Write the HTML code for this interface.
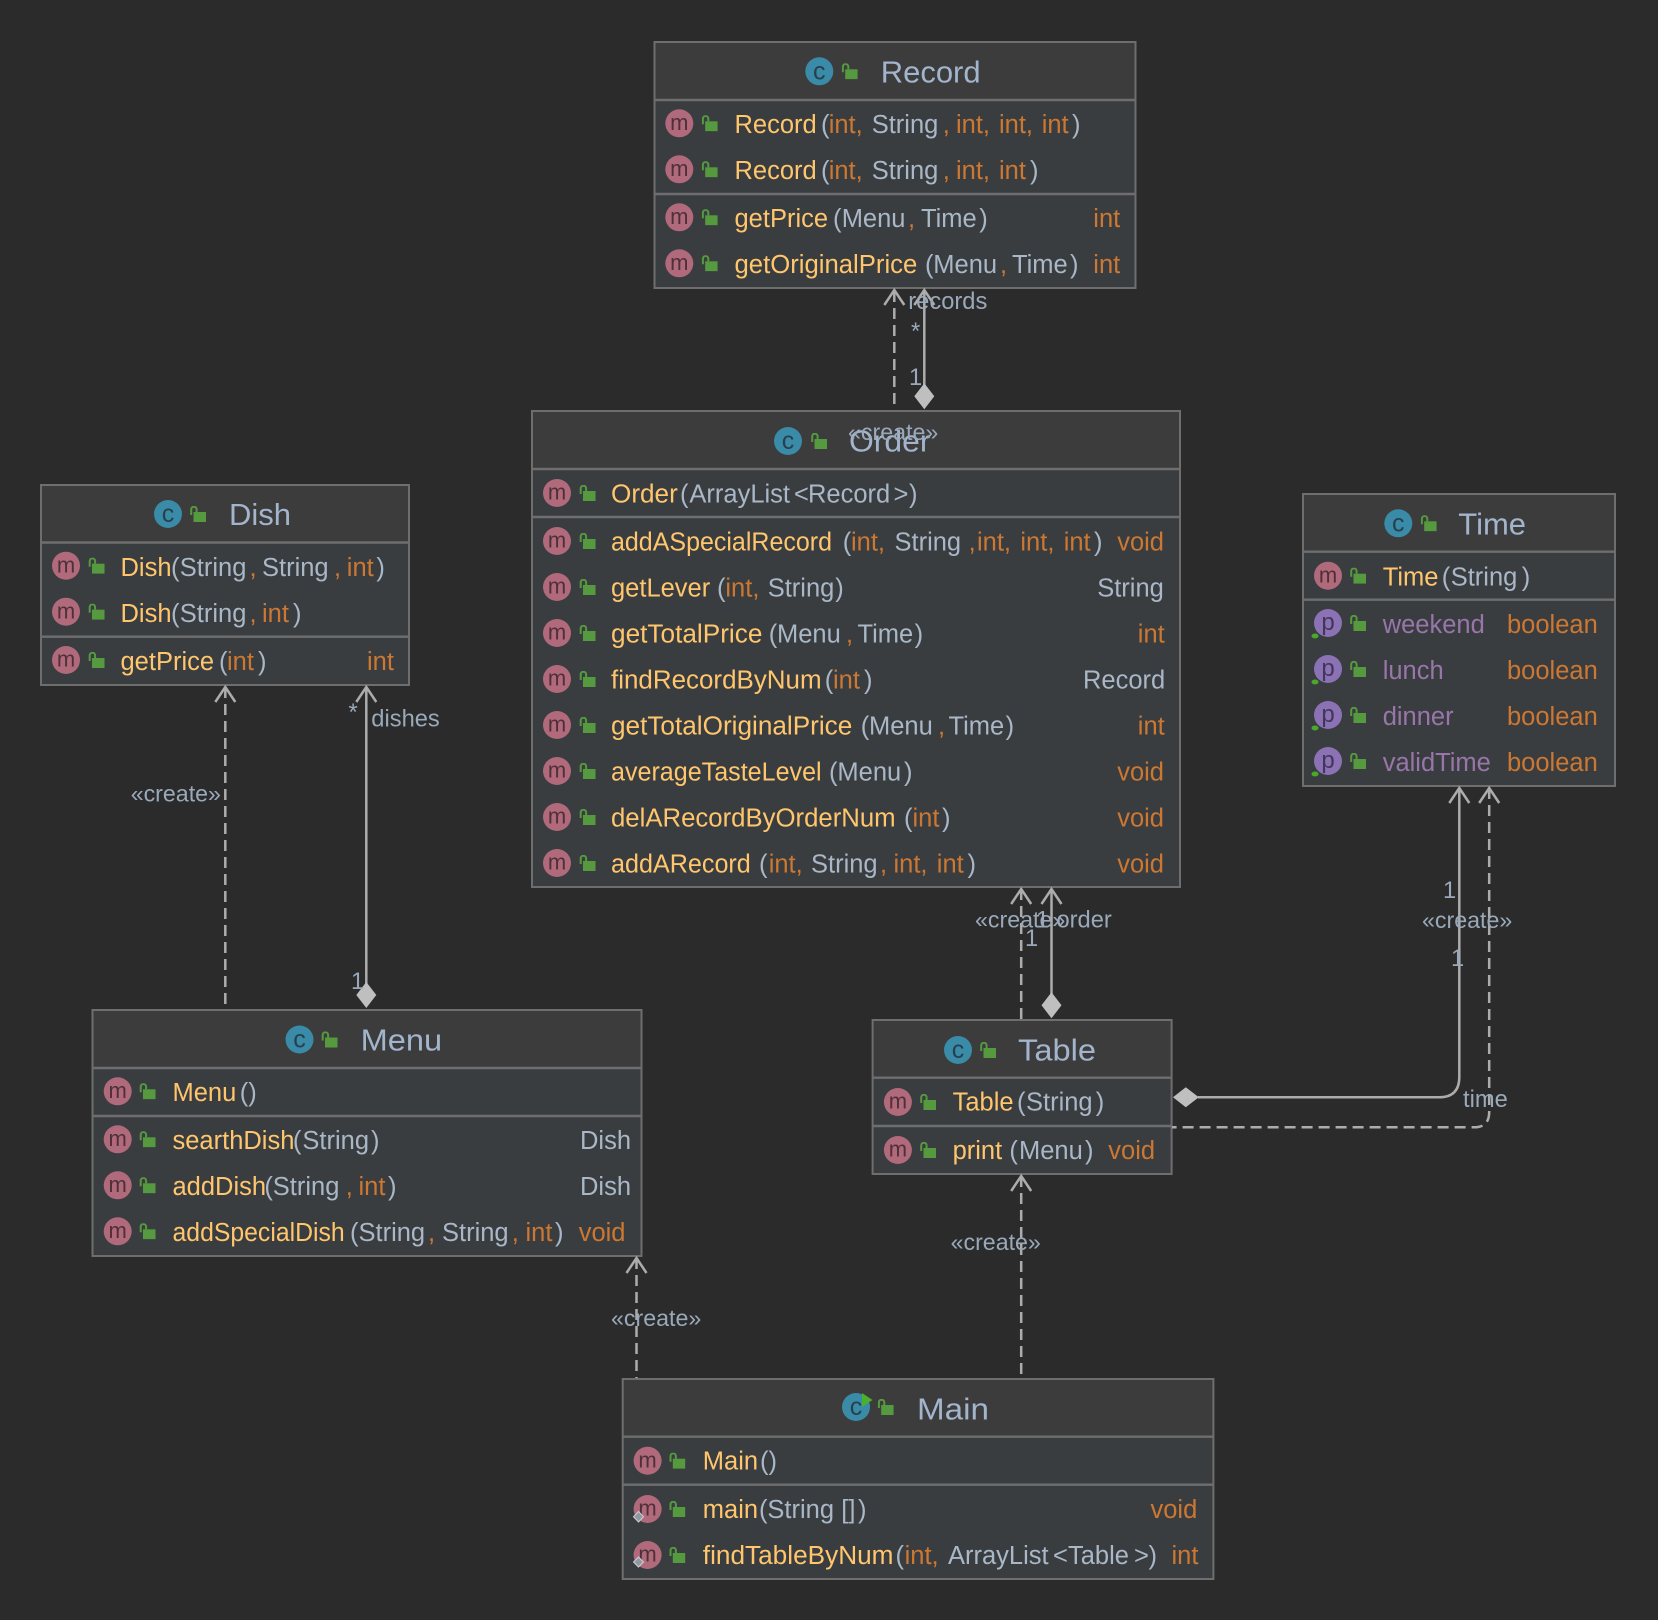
<!DOCTYPE html>
<html><head><meta charset="utf-8"><style>
html,body{margin:0;padding:0;background:#2b2b2b}
svg{display:block}
text{font-family:"Liberation Sans",sans-serif;font-size:25.5px}
.y{fill:#ffc66d}.b{fill:#a9b7c6}.o{fill:#cc7832}.p{fill:#9876aa}
.t{font-size:31px;fill:#a3b5cc}
.l{font-size:23.7px;fill:#9aa9ba}
.lc{font-size:23.2px;fill:#9aa9ba}
.hd{fill:#3c3c3c}.bd{fill:#3a3d40}
.bx{fill:none;stroke:#6e6e6e;stroke-width:2}
.sp{stroke:#6e6e6e;stroke-width:2.4}
.m{fill:#b06a7b}.c{fill:#3a8ba8}.pc{fill:#8a72b5}
.mt{font-size:22px;fill:#4f3039;text-anchor:middle}
.ct{font-size:25px;fill:#27404e;text-anchor:middle}
.pt{font-size:24px;fill:#43365a;text-anchor:middle}
.ln{fill:none;stroke:#acacac;stroke-width:2.5}
.ds{fill:none;stroke:#acacac;stroke-width:2.5;stroke-dasharray:11 6}
.dm{fill:#bfbfbf}
.gd{fill:#4aa82a}
.sd{fill:#8e9aa3;stroke:#d0d0d0;stroke-width:1}
</style></head><body>
<svg xmlns="http://www.w3.org/2000/svg" width="1658" height="1620" viewBox="0 0 1658 1620">
<defs>
<symbol id="L" viewBox="0 0 16 16" width="16" height="16">
<rect x="3.5" y="6" width="12.5" height="10" fill="#559a3e"/>
<path d="M1.2 9V3.4A2.7 2.7 0 0 1 6.6 3.4V6" fill="none" stroke="#559a3e" stroke-width="2"/>
</symbol>
</defs>
<rect width="1658" height="1620" fill="#2b2b2b"/>

<!-- Record -->
<rect class="hd" x="654.5" y="42" width="481" height="58"/><rect class="bd" x="654.5" y="100" width="481" height="188"/>
<rect class="bx" x="654.5" y="42" width="481" height="246"/>
<line class="sp" x1="655" y1="100" x2="1135" y2="100"/><line class="sp" x1="655" y1="194" x2="1135" y2="194"/>
<circle class="c" cx="819.3" cy="71.3" r="14"/><text class="ct" x="819.3" y="79.5">c</text><use href="#L" x="841.7" y="63.3"/>
<text class="t" x="880.7" y="82.7">Record</text>
<circle class="m" cx="679.3" cy="123.3" r="14"/><text class="mt" x="679.3" y="130">m</text><use href="#L" x="701.7" y="115.3"/>
<circle class="m" cx="679.3" cy="169.3" r="14"/><text class="mt" x="679.3" y="176">m</text><use href="#L" x="701.7" y="161.3"/>
<circle class="m" cx="679.3" cy="217.3" r="14"/><text class="mt" x="679.3" y="224">m</text><use href="#L" x="701.7" y="209.3"/>
<circle class="m" cx="679.3" cy="263.3" r="14"/><text class="mt" x="679.3" y="270">m</text><use href="#L" x="701.7" y="255.3"/>
<text y="133"><tspan class="y" x="734.5">Record</tspan><tspan class="b" x="821">(</tspan><tspan class="o" x="828.7">int,</tspan><tspan class="b" x="871.7">String</tspan><tspan class="o" x="942.7">,</tspan><tspan class="o" x="956">int,</tspan><tspan class="o" x="999">int,</tspan><tspan class="o" x="1041.7">int</tspan><tspan class="b" x="1072">)</tspan></text>
<text y="179"><tspan class="y" x="734.5">Record</tspan><tspan class="b" x="821">(</tspan><tspan class="o" x="828.7">int,</tspan><tspan class="b" x="871.7">String</tspan><tspan class="o" x="942.7">,</tspan><tspan class="o" x="956">int,</tspan><tspan class="o" x="999">int</tspan><tspan class="b" x="1030">)</tspan></text>
<text y="227"><tspan class="y" x="734.5">getPrice</tspan><tspan class="b" x="833">(</tspan><tspan class="b" x="841.7">Menu</tspan><tspan class="o" x="908">,</tspan><tspan class="b" x="921">Time</tspan><tspan class="b" x="979.3">)</tspan><tspan class="o" x="1093.3">int</tspan></text>
<text class="y" x="734.5" y="273" textLength="182.8" lengthAdjust="spacingAndGlyphs">getOriginalPrice</text>
<text y="273"><tspan class="b" x="925">(</tspan><tspan class="b" x="933.3">Menu</tspan><tspan class="o" x="1000">,</tspan><tspan class="b" x="1012">Time</tspan><tspan class="b" x="1070">)</tspan><tspan class="o" x="1093.3">int</tspan></text>

<!-- Order -->
<rect class="hd" x="532" y="411" width="648" height="58"/><rect class="bd" x="532" y="469" width="648" height="418"/>
<rect class="bx" x="532" y="411" width="648" height="476"/>
<line class="sp" x1="533" y1="469" x2="1179" y2="469"/><line class="sp" x1="533" y1="517" x2="1179" y2="517"/>
<circle class="c" cx="788" cy="441" r="14"/><text class="ct" x="788" y="449.2">c</text><use href="#L" x="811" y="433"/>
<text class="t" x="849" y="451.7" textLength="81.5" lengthAdjust="spacingAndGlyphs">Order</text>
<circle class="m" cx="557" cy="493" r="14"/><text class="mt" x="557" y="499.7">m</text><use href="#L" x="579.5" y="485"/>
<circle class="m" cx="557" cy="541" r="14"/><text class="mt" x="557" y="547.7">m</text><use href="#L" x="579.5" y="533"/>
<circle class="m" cx="557" cy="587" r="14"/><text class="mt" x="557" y="593.7">m</text><use href="#L" x="579.5" y="579"/>
<circle class="m" cx="557" cy="633" r="14"/><text class="mt" x="557" y="639.7">m</text><use href="#L" x="579.5" y="625"/>
<circle class="m" cx="557" cy="679" r="14"/><text class="mt" x="557" y="685.7">m</text><use href="#L" x="579.5" y="671"/>
<circle class="m" cx="557" cy="725" r="14"/><text class="mt" x="557" y="731.7">m</text><use href="#L" x="579.5" y="717"/>
<circle class="m" cx="557" cy="771" r="14"/><text class="mt" x="557" y="777.7">m</text><use href="#L" x="579.5" y="763"/>
<circle class="m" cx="557" cy="817" r="14"/><text class="mt" x="557" y="823.7">m</text><use href="#L" x="579.5" y="809"/>
<circle class="m" cx="557" cy="863" r="14"/><text class="mt" x="557" y="869.7">m</text><use href="#L" x="579.5" y="855"/>
<text class="y" x="611" y="502.5" textLength="66.8" lengthAdjust="spacingAndGlyphs">Order</text>
<text y="502.5"><tspan class="b" x="680">(</tspan><tspan class="b" x="689.4" >ArrayList</tspan><tspan class="b" x="794">&lt;</tspan><tspan class="b" x="808">Record</tspan><tspan class="b" x="893.5">&gt;</tspan><tspan class="b" x="909">)</tspan></text>
<text class="y" x="611" y="550.5" textLength="221" lengthAdjust="spacingAndGlyphs">addASpecialRecord</text>
<text y="550.5"><tspan class="b" x="842.7">(</tspan><tspan class="o" x="851">int,</tspan><tspan class="b" x="894.5">String</tspan><tspan class="o" x="968.6">,</tspan><tspan class="o" x="977">int,</tspan><tspan class="o" x="1020.4">int,</tspan><tspan class="o" x="1063.7">int</tspan><tspan class="b" x="1094">)</tspan><tspan class="o" x="1117.2">void</tspan></text>
<text y="596.5"><tspan class="y" x="611">getLever</tspan><tspan class="b" x="717">(</tspan><tspan class="o" x="725.4">int,</tspan><tspan class="b" x="767.7">String</tspan><tspan class="b" x="835.3">)</tspan><tspan class="b" x="1097.2">String</tspan></text>
<text class="y" x="611" y="642.5" textLength="151.4" lengthAdjust="spacingAndGlyphs">getTotalPrice</text>
<text y="642.5"><tspan class="b" x="768.7">(</tspan><tspan class="b" x="777">Menu</tspan><tspan class="o" x="846">,</tspan><tspan class="b" x="857.5">Time</tspan><tspan class="b" x="914.6">)</tspan><tspan class="o" x="1137.8">int</tspan></text>
<text class="y" x="611" y="688.5" textLength="210.6" lengthAdjust="spacingAndGlyphs">findRecordByNum</text>
<text y="688.5"><tspan class="b" x="824.8">(</tspan><tspan class="o" x="833">int</tspan><tspan class="b" x="864">)</tspan><tspan class="b" x="1083">Record</tspan></text>
<text class="y" x="611" y="734.5" textLength="241.3" lengthAdjust="spacingAndGlyphs">getTotalOriginalPrice</text>
<text y="734.5"><tspan class="b" x="860.7">(</tspan><tspan class="b" x="869">Menu</tspan><tspan class="o" x="938">,</tspan><tspan class="b" x="948.5">Time</tspan><tspan class="b" x="1005.6">)</tspan><tspan class="o" x="1137.8">int</tspan></text>
<text class="y" x="611" y="780.5" textLength="210.6" lengthAdjust="spacingAndGlyphs">averageTasteLevel</text>
<text y="780.5"><tspan class="b" x="829">(</tspan><tspan class="b" x="837.4">Menu</tspan><tspan class="b" x="904">)</tspan><tspan class="o" x="1117.2">void</tspan></text>
<text class="y" x="611" y="826.5" textLength="284.6" lengthAdjust="spacingAndGlyphs">delARecordByOrderNum</text>
<text y="826.5"><tspan class="b" x="904">(</tspan><tspan class="o" x="912.5">int</tspan><tspan class="b" x="942">)</tspan><tspan class="o" x="1117.2">void</tspan></text>
<text class="y" x="611" y="872.5" textLength="139.8" lengthAdjust="spacingAndGlyphs">addARecord</text>
<text y="872.5"><tspan class="b" x="759">(</tspan><tspan class="o" x="768.7">int,</tspan><tspan class="b" x="811">String</tspan><tspan class="o" x="880">,</tspan><tspan class="o" x="893.5">int,</tspan><tspan class="o" x="936.8">int</tspan><tspan class="b" x="967.5">)</tspan><tspan class="o" x="1117.2">void</tspan></text>

<!-- Dish -->
<rect class="hd" x="41" y="485" width="368" height="58"/><rect class="bd" x="41" y="543" width="368" height="142"/>
<rect class="bx" x="41" y="485" width="368" height="200"/>
<line class="sp" x1="42" y1="542.5" x2="408" y2="542.5"/><line class="sp" x1="42" y1="636.7" x2="408" y2="636.7"/>
<circle class="c" cx="168" cy="514" r="14"/><text class="ct" x="168" y="522.2">c</text><use href="#L" x="190" y="506"/>
<text class="t" x="229" y="525">Dish</text>
<circle class="m" cx="66" cy="565.7" r="14"/><text class="mt" x="66" y="572.4">m</text><use href="#L" x="88.5" y="557.7"/>
<circle class="m" cx="66" cy="611.7" r="14"/><text class="mt" x="66" y="618.4">m</text><use href="#L" x="88.5" y="603.7"/>
<circle class="m" cx="66" cy="660" r="14"/><text class="mt" x="66" y="666.7">m</text><use href="#L" x="88.5" y="652"/>
<text y="576"><tspan class="y" x="120.5">Dish</tspan><tspan class="b" x="171">(</tspan><tspan class="b" x="179.8">String</tspan><tspan class="o" x="249.5">,</tspan><tspan class="b" x="262">String</tspan><tspan class="o" x="334">,</tspan><tspan class="o" x="346.8">int</tspan><tspan class="b" x="376.4">)</tspan></text>
<text y="622"><tspan class="y" x="120.5">Dish</tspan><tspan class="b" x="171">(</tspan><tspan class="b" x="179.8">String</tspan><tspan class="o" x="249.5">,</tspan><tspan class="o" x="262">int</tspan><tspan class="b" x="293">)</tspan></text>
<text y="669.8"><tspan class="y" x="120.5">getPrice</tspan><tspan class="b" x="219">(</tspan><tspan class="o" x="227">int</tspan><tspan class="b" x="258">)</tspan><tspan class="o" x="367">int</tspan></text>

<!-- Time -->
<rect class="hd" x="1303" y="494" width="312" height="58"/><rect class="bd" x="1303" y="552" width="312" height="234"/>
<rect class="bx" x="1303" y="494" width="312" height="292"/>
<line class="sp" x1="1304" y1="551.7" x2="1614" y2="551.7"/><line class="sp" x1="1304" y1="599.7" x2="1614" y2="599.7"/>
<circle class="c" cx="1398.3" cy="523.3" r="14"/><text class="ct" x="1398.3" y="531.5">c</text><use href="#L" x="1420.7" y="515.3"/>
<text class="t" x="1458.3" y="534.5">Time</text>
<circle class="m" cx="1328" cy="575.7" r="14"/><text class="mt" x="1328" y="582.4">m</text><use href="#L" x="1350" y="567.7"/>
<circle class="pc" cx="1328" cy="623" r="14"/><text class="pt" x="1328" y="630">p</text><ellipse class="gd" cx="1315" cy="636" rx="3.5" ry="2.5"/><use href="#L" x="1350" y="615"/>
<circle class="pc" cx="1328" cy="669" r="14"/><text class="pt" x="1328" y="676">p</text><ellipse class="gd" cx="1315" cy="682" rx="3.5" ry="2.5"/><use href="#L" x="1350" y="661"/>
<circle class="pc" cx="1328" cy="715" r="14"/><text class="pt" x="1328" y="722">p</text><ellipse class="gd" cx="1315" cy="728" rx="3.5" ry="2.5"/><use href="#L" x="1350" y="707"/>
<circle class="pc" cx="1328" cy="761" r="14"/><text class="pt" x="1328" y="768">p</text><ellipse class="gd" cx="1315" cy="774" rx="3.5" ry="2.5"/><use href="#L" x="1350" y="753"/>
<text y="585.3"><tspan class="y" x="1382.7">Time</tspan><tspan class="b" x="1441.7">(</tspan><tspan class="b" x="1450.7">String</tspan><tspan class="b" x="1521.7">)</tspan></text>
<text y="633"><tspan class="p" x="1382.7">weekend</tspan><tspan class="o" x="1507">boolean</tspan></text>
<text y="679"><tspan class="p" x="1382.7">lunch</tspan><tspan class="o" x="1507">boolean</tspan></text>
<text y="725"><tspan class="p" x="1382.7">dinner</tspan><tspan class="o" x="1507">boolean</tspan></text>
<text y="771"><tspan class="p" x="1382.7">validTime</tspan><tspan class="o" x="1507">boolean</tspan></text>

<!-- Menu -->
<rect class="hd" x="92.5" y="1010" width="549" height="58"/><rect class="bd" x="92.5" y="1068" width="549" height="188"/>
<rect class="bx" x="92.5" y="1010" width="549" height="246"/>
<line class="sp" x1="93" y1="1068" x2="641" y2="1068"/><line class="sp" x1="93" y1="1116" x2="641" y2="1116"/>
<circle class="c" cx="299.5" cy="1039.5" r="14"/><text class="ct" x="299.5" y="1047.7">c</text><use href="#L" x="321.5" y="1031.5"/>
<text class="t" x="360.6" y="1050.7" textLength="81.5" lengthAdjust="spacingAndGlyphs">Menu</text>
<circle class="m" cx="117.7" cy="1091.3" r="14"/><text class="mt" x="117.7" y="1098">m</text><use href="#L" x="139.5" y="1083.3"/>
<circle class="m" cx="117.7" cy="1139.3" r="14"/><text class="mt" x="117.7" y="1146">m</text><use href="#L" x="139.5" y="1131.3"/>
<circle class="m" cx="117.7" cy="1185.3" r="14"/><text class="mt" x="117.7" y="1192">m</text><use href="#L" x="139.5" y="1177.3"/>
<circle class="m" cx="117.7" cy="1231.3" r="14"/><text class="mt" x="117.7" y="1238">m</text><use href="#L" x="139.5" y="1223.3"/>
<text y="1100.8"><tspan class="y" x="172.5">Menu</tspan><tspan class="b" x="239.8">()</tspan></text>
<text y="1148.8"><tspan class="y" x="172.5">searthDish</tspan><tspan class="b" x="292.9">(</tspan><tspan class="b" x="302.4">String</tspan><tspan class="b" x="371">)</tspan><tspan class="b" x="580">Dish</tspan></text>
<text y="1194.8"><tspan class="y" x="172.5">addDish</tspan><tspan class="b" x="264.4">(</tspan><tspan class="b" x="272.8">String</tspan><tspan class="o" x="345.8">,</tspan><tspan class="o" x="358.5">int</tspan><tspan class="b" x="388">)</tspan><tspan class="b" x="580">Dish</tspan></text>
<text class="y" x="172.5" y="1240.8" textLength="172.2" lengthAdjust="spacingAndGlyphs">addSpecialDish</text>
<text y="1240.8"><tspan class="b" x="350">(</tspan><tspan class="b" x="358.5">String</tspan><tspan class="o" x="428">,</tspan><tspan class="b" x="442">String</tspan><tspan class="o" x="511.8">,</tspan><tspan class="o" x="525.5">int</tspan><tspan class="b" x="555">)</tspan><tspan class="o" x="578.7">void</tspan></text>

<!-- Table -->
<rect class="hd" x="872.6" y="1020" width="299" height="58"/><rect class="bd" x="872.6" y="1078" width="299" height="96"/>
<rect class="bx" x="872.6" y="1020" width="299" height="154"/>
<line class="sp" x1="873" y1="1077.7" x2="1171" y2="1077.7"/><line class="sp" x1="873" y1="1126" x2="1171" y2="1126"/>
<circle class="c" cx="958" cy="1050" r="14"/><text class="ct" x="958" y="1058.2">c</text><use href="#L" x="980" y="1042"/>
<text class="t" x="1018" y="1060.5" textLength="78" lengthAdjust="spacingAndGlyphs">Table</text>
<circle class="m" cx="897.9" cy="1102" r="14"/><text class="mt" x="897.9" y="1108.7">m</text><use href="#L" x="920" y="1094"/>
<circle class="m" cx="897.9" cy="1150" r="14"/><text class="mt" x="897.9" y="1156.7">m</text><use href="#L" x="920" y="1142"/>
<text y="1110.7"><tspan class="y" x="952.6">Table</tspan><tspan class="b" x="1017">(</tspan><tspan class="b" x="1026">String</tspan><tspan class="b" x="1095.7">)</tspan></text>
<text y="1159"><tspan class="y" x="952.6">print</tspan><tspan class="b" x="1009.4">(</tspan><tspan class="b" x="1019">Menu</tspan><tspan class="b" x="1085">)</tspan><tspan class="o" x="1108.3">void</tspan></text>

<!-- Main -->
<rect class="hd" x="622.7" y="1379" width="590.7" height="58"/><rect class="bd" x="622.7" y="1437" width="590.7" height="142"/>
<rect class="bx" x="622.7" y="1379" width="590.7" height="200"/>
<line class="sp" x1="623" y1="1436.7" x2="1213" y2="1436.7"/><line class="sp" x1="623" y1="1484.7" x2="1213" y2="1484.7"/>
<circle class="c" cx="856" cy="1407" r="14"/><text class="ct" x="856" y="1415.2">c</text><polygon points="862,1393 872.5,1400 862,1407" fill="#4caf2e"/><use href="#L" x="877.7" y="1399"/>
<text class="t" x="917" y="1419.5" textLength="72" lengthAdjust="spacingAndGlyphs">Main</text>
<circle class="m" cx="647.6" cy="1460.7" r="14"/><text class="mt" x="647.6" y="1467.4">m</text><use href="#L" x="669.3" y="1452.7"/>
<circle class="m" cx="647.6" cy="1509" r="14"/><text class="mt" x="647.6" y="1515.7">m</text><polygon class="sd" points="638.5,1511.5 643.5,1516.7 638.5,1522 633.5,1516.7"/><use href="#L" x="669.3" y="1501"/>
<circle class="m" cx="647.6" cy="1555" r="14"/><text class="mt" x="647.6" y="1561.7">m</text><polygon class="sd" points="638.5,1557 643.5,1562 638.5,1567 633.5,1562"/><use href="#L" x="669.3" y="1547"/>
<text y="1469.3"><tspan class="y" x="702.8">Main</tspan><tspan class="b" x="760">()</tspan></text>
<text y="1518"><tspan class="y" x="702.8">main</tspan><tspan class="b" x="759">(</tspan><tspan class="b" x="767.4">String</tspan><tspan class="b" x="841.3">[]</tspan><tspan class="b" x="858">)</tspan><tspan class="o" x="1150.5">void</tspan></text>
<text class="y" x="702.8" y="1564" textLength="190.7" lengthAdjust="spacingAndGlyphs">findTableByNum</text>
<text y="1564"><tspan class="b" x="895.5">(</tspan><tspan class="o" x="904.6">int,</tspan><tspan class="b" x="948">ArrayList</tspan><tspan class="b" x="1053">&lt;</tspan><tspan class="b" x="1068">Table</tspan><tspan class="b" x="1134">&gt;</tspan><tspan class="b" x="1148.5">)</tspan><tspan class="o" x="1171.5">int</tspan></text>

<!-- connectors: Order to Record -->
<line class="ds" x1="894.3" y1="291" x2="894.3" y2="410"/>
<polyline class="ln" points="884.3,305 894.3,290 904.3,305"/>
<line class="ln" x1="924.3" y1="291" x2="924.3" y2="385"/>
<polyline class="ln" points="914.3,305 924.3,290 934.3,305"/>
<polygon class="dm" points="924.3,383.3 934.3,396.3 924.3,409.3 914.3,396.3"/>

<!-- Menu to Dish -->
<line class="ds" x1="225.3" y1="687" x2="225.3" y2="1009"/>
<polyline class="ln" points="215.3,702 225.3,687 235.3,702"/>
<line class="ln" x1="366.3" y1="687" x2="366.3" y2="984"/>
<polyline class="ln" points="356.3,702 366.3,687 376.3,702"/>
<polygon class="dm" points="366.3,982 376.3,995 366.3,1008 356.3,995"/>

<!-- Main to Menu -->
<line class="ds" x1="636.5" y1="1258" x2="636.5" y2="1378"/>
<polyline class="ln" points="626.5,1273 636.5,1258 646.5,1273"/>

<!-- Main to Table -->
<line class="ds" x1="1021.2" y1="1176" x2="1021.2" y2="1378"/>
<polyline class="ln" points="1011.2,1191 1021.2,1176 1031.2,1191"/>

<!-- Table to Order -->
<line class="ds" x1="1021.2" y1="889" x2="1021.2" y2="1019"/>
<polyline class="ln" points="1011.2,904 1021.2,889 1031.2,904"/>
<line class="ln" x1="1051.5" y1="889" x2="1051.5" y2="994"/>
<polyline class="ln" points="1041.5,904 1051.5,889 1061.5,904"/>
<polygon class="dm" points="1051.5,992.3 1061.5,1005.3 1051.5,1018.3 1041.5,1005.3"/>

<!-- Table to Time -->
<path class="ln" d="M1459.3 788V1077Q1459.3 1097.3 1439 1097.3H1198"/>
<polyline class="ln" points="1449.3,803 1459.3,788 1469.3,803"/>
<polygon class="dm" points="1173,1097.3 1185.8,1087.3 1198.8,1097.3 1185.8,1107.3"/>
<path class="ds" d="M1489.2 788V1112Q1489.2 1127.3 1474 1127.3H1172"/>
<polyline class="ln" points="1479.2,803 1489.2,788 1499.2,803"/>

<!-- labels -->
<text class="l" x="908.3" y="309">records</text>
<text class="l" x="911" y="339">*</text>
<text class="l" x="909" y="385">1</text>
<text class="lc" x="848" y="440">«create»</text>
<text class="l" x="371.3" y="726.5">dishes</text>
<text class="l" x="348.5" y="720">*</text>
<text class="l" x="351" y="989">1</text>
<text class="lc" x="130.7" y="801.7">«create»</text>
<text class="lc" x="611" y="1326">«create»</text>
<text class="lc" x="950.6" y="1250">«create»</text>
<text class="lc" x="975" y="927.3">«create»</text>
<text class="l" x="1036" y="927.3">1</text>
<text class="l" x="1056.5" y="927.3">order</text>
<text class="l" x="1025" y="946">1</text>
<text class="l" x="1443" y="898">1</text>
<text class="lc" x="1422" y="928">«create»</text>
<text class="l" x="1451" y="966">1</text>
<text class="l" x="1463" y="1107">time</text>
</svg>
</body></html>
